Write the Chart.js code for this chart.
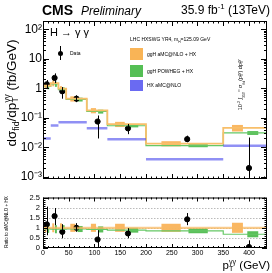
<!DOCTYPE html>
<html><head><meta charset="utf-8">
<script src="https://cdn.jsdelivr.net/npm/chart.js@4/dist/chart.umd.min.js"></script>
<style>
html,body{margin:0;padding:0;background:#fff;}
#wrap{position:relative;width:272px;height:273px;overflow:hidden;font-family:"Liberation Sans",Arial,sans-serif;}
canvas{position:absolute;left:0;}
.t{position:absolute;white-space:nowrap;color:#000;line-height:1;}
.t sup,.t sub{font-size:65%;line-height:0;}
.ss{display:inline-flex;flex-direction:column;vertical-align:middle;font-size:62%;line-height:0.95;}
.sw{position:absolute;}
</style></head><body>
<div id="wrap">
<canvas id="top" width="272" height="190" style="top:0"></canvas>
<canvas id="rat" width="272" height="83" style="top:190px"></canvas>

<div class="t" style="left:42px;top:3px;font-size:14px;font-weight:bold;">CMS</div>
<div class="t" style="left:81px;top:5px;font-size:12px;font-style:italic;">Preliminary</div>
<div class="t" style="right:2px;top:4px;font-size:12px;">35.9 fb<sup>-1</sup> (13TeV)</div>
<div class="t" style="left:50px;top:27px;font-size:11px;">H &rarr; &gamma; &gamma;</div>
<div class="t" style="left:12px;top:93px;font-size:13.5px;transform:translate(-50%,-50%) rotate(-90deg);">d&sigma;<sub>fid</sub>/dp<span class="ss"><span>&gamma;&gamma;</span><span>T</span></span> (fb/GeV)</div>
<div class="t" style="left:7px;top:222px;font-size:4.5px;transform:translate(-50%,-50%) rotate(-90deg);">Ratio to aMC@NLO + HX</div>
<div class="t" style="right:2px;top:259px;font-size:11.5px;">p<span class="ss"><span>&gamma;&gamma;</span><span>T</span></span> (GeV)</div>

<div class="t" style="left:130px;top:37px;font-size:5px;">LHC HXSWG YR4, m<sub>H</sub>=125.09 GeV</div>
<div class="sw" style="left:60px;top:46px;width:1px;height:14px;background:#000;"></div>
<div class="sw" style="left:58px;top:50.5px;width:5px;height:5px;border-radius:50%;background:#000;"></div>
<div class="t" style="left:70px;top:50.5px;font-size:5px;">Data</div>
<div class="sw" style="left:130px;top:48px;width:13px;height:12px;background:#f9b456;"></div>
<div class="t" style="left:147px;top:51.5px;font-size:5px;">ggH aMC@NLO + HX</div>
<div class="sw" style="left:130px;top:65px;width:13px;height:12px;background:#55bf55;"></div>
<div class="t" style="left:147px;top:68.5px;font-size:5px;">ggH POWHEG + HX</div>
<div class="sw" style="left:130px;top:80px;width:13px;height:11px;background:#6a6af2;"></div>
<div class="t" style="left:147px;top:83px;font-size:5px;">HX aMC@NLO</div>
<div class="t" style="left:241px;top:85px;font-size:5.5px;transform:translate(-50%,-50%) rotate(-90deg);">10<sup>-2</sup> &int;<sub>350</sub><sup>&infin;</sup> &sigma;<sub>fid</sub>(p<span class="ss"><span>&gamma;&gamma;</span><span>T</span></span>) dp<span class="ss"><span>&gamma;&gamma;</span><span>T</span></span></div>
</div>
<script>
// ---------- data ----------
const binEdges = [0, 15, 30, 45, 85, 125, 200, 350, 435];
const dataX    = [7.5, 22.5, 37.5, 65, 106, 165, 280, 400];
const dataY    = [1.37, 2.25, 0.79, 0.445, 0.075, 0.044, 0.019, 0.002];
const dataLo   = [1.0, 1.5, 0.445, 0.34, 0.02, 0.028, 0.015, 0.0006];
const dataHi   = [1.9, 3.2, 1.1, 0.58, 0.12, 0.062, 0.025, 0.0216];
const amcY     = [1.22, 1.5, 0.97, 0.445, 0.178, 0.061, 0.0135, 0.046];
const powhegY  = [1.16, 1.4, 0.9, 0.42, 0.164, 0.054, 0.0115, 0.031];
const hxY      = [0.02, 0.055, 0.071, 0.071, 0.044, 0.019, 0.004, 0.0113];
const amcErr   = [0.22, 0.22, 0.22, 0.2, 0.2, 0.2, 0.2, 0.25];
const powhegErr= [0.2, 0.2, 0.2, 0.15, 0.15, 0.12, 0.12, 0.15];
const ratioY   = [1.17, 1.58, 0.8, 1.0, 0.42, 0.72, 1.42, 0.05];
const ratioLo  = [0.63, 1.13, 0.48, 0.8, 0.0, 0.48, 1.13, -0.5];
const ratioHi  = [2.05, 1.98, 1.18, 1.23, 0.88, 0.98, 1.73, 0.38];
const amcRatio = [1, 1, 1, 1, 1, 1, 1, 1];
const powhegRatio = [0.95, 0.93, 0.93, 0.94, 0.92, 0.88, 0.85, 0.68];
const xTickVals = [0, 50, 100, 150, 200, 250, 300, 350, 400];
const yTopTicks = [0.001, 0.01, 0.1, 1, 10, 100];
const yTopLabels = ['10\u207B\u00B3', '10\u207B\u00B2', '10\u207B\u00B9', '1', '10', '10\u00B2'];
const yRatTicks = [0, 0.5, 1, 1.5, 2, 2.5];
const yRatLabels = ['0', '0.5', '1', '1.5', '2', '2.5'];

const FONT = '"Liberation Sans", Arial, sans-serif';
const ORANGE_BOX = 'rgba(249,170,70,0.85)';
const GREEN_BOX = 'rgba(60,180,60,0.85)';

function stepData(vals){
  const d = vals.map((v,i)=>({x:binEdges[i], y:v}));
  d.push({x:binEdges[binEdges.length-1], y:vals[vals.length-1]});
  return d;
}
function segData(vals){
  const d = [];
  vals.forEach((v,i)=>{ d.push({x:binEdges[i],y:v}); d.push({x:binEdges[i+1],y:v}); d.push({x:binEdges[i+1],y:null}); });
  return d;
}

function drawBoxes(ctx, x, y, centers, errs, f0, f1, color){
  ctx.fillStyle = color;
  centers.forEach((c,i)=>{
    const w = binEdges[i+1]-binEdges[i];
    const px0 = x.getPixelForValue(binEdges[i]+f0*w), px1 = x.getPixelForValue(binEdges[i]+f1*w);
    const py0 = y.getPixelForValue(c*(1+errs[i])), py1 = y.getPixelForValue(c*(1-errs[i]));
    ctx.fillRect(px0, py0, px1-px0, py1-py0);
  });
}
function drawBoxesLin(ctx, x, y, centers, errs, f0, f1, color){
  ctx.fillStyle = color;
  centers.forEach((c,i)=>{
    const w = binEdges[i+1]-binEdges[i];
    const px0 = x.getPixelForValue(binEdges[i]+f0*w), px1 = x.getPixelForValue(binEdges[i]+f1*w);
    const py0 = y.getPixelForValue(c+errs[i]), py1 = y.getPixelForValue(c-errs[i]);
    ctx.fillRect(px0, py0, px1-px0, py1-py0);
  });
}
function drawErr(ctx, x, y, xs, lo, hi){
  ctx.strokeStyle = '#000'; ctx.lineWidth = 1;
  ctx.beginPath();
  xs.forEach((xv,i)=>{
    const px = Math.round(x.getPixelForValue(xv))+0.5;
    ctx.moveTo(px, y.getPixelForValue(hi[i]));
    ctx.lineTo(px, y.getPixelForValue(lo[i]));
  });
  ctx.stroke();
}
function clipArea(ctx,a){ ctx.beginPath(); ctx.rect(a.left,a.top,a.right-a.left,a.bottom-a.top); ctx.clip(); }

function frameTicks(chart, yMaj, yMin, Lx, lx, Ly, ly){
  const {ctx, chartArea:a, scales:{x,y}} = chart;
  ctx.save();
  ctx.strokeStyle = '#000'; ctx.lineWidth = 1;
  ctx.strokeRect(a.left+0.5, a.top+0.5, a.right-a.left-1, a.bottom-a.top-1);
  ctx.beginPath();
  for(let v=0; v<=x.max; v+=10){
    const px = Math.round(x.getPixelForValue(v))+0.5;
    const L = (v%50===0)? Lx : lx;
    ctx.moveTo(px, a.bottom); ctx.lineTo(px, a.bottom-L);
    ctx.moveTo(px, a.top); ctx.lineTo(px, a.top+L);
  }
  yMaj.forEach(v=>{ const py=Math.round(y.getPixelForValue(v))+0.5;
    ctx.moveTo(a.left,py); ctx.lineTo(a.left+Ly,py); ctx.moveTo(a.right,py); ctx.lineTo(a.right-Ly,py); });
  yMin.forEach(v=>{ const py=Math.round(y.getPixelForValue(v))+0.5;
    ctx.moveTo(a.left,py); ctx.lineTo(a.left+ly,py); ctx.moveTo(a.right,py); ctx.lineTo(a.right-ly,py); });
  ctx.stroke();
  ctx.restore();
}

const logMinor = [];
[-4,-3,-2,-1,0,1,2].forEach(e=>{ for(let k=2;k<=9;k++){ const v=k*Math.pow(10,e); if(v>0.00085 && v<190) logMinor.push(v);} });
const ratMinor = [];
for(let i=0;i<=25;i++){ if(i%5!==0) ratMinor.push(i/10); }

const topPlugin = {
  id:'topP',
  beforeDatasetsDraw(chart){
    const {ctx, chartArea:a, scales:{x,y}} = chart;
    ctx.save(); clipArea(ctx,a);
    drawBoxes(ctx,x,y,amcY,amcErr,0.2,0.45,ORANGE_BOX);
    drawBoxes(ctx,x,y,powhegY,powhegErr,0.55,0.8,GREEN_BOX);
    ctx.restore();
  },
  afterDatasetsDraw(chart){
    const {ctx, chartArea:a, scales:{x,y}} = chart;
    ctx.save(); clipArea(ctx,a);
    drawErr(ctx,x,y,dataX,dataLo,dataHi);
    ctx.restore();
  },
  afterDraw(chart){ frameTicks(chart, yTopTicks, logMinor, 5, 2.5, 6, 3); }
};
const ratPlugin = {
  id:'ratP',
  beforeDatasetsDraw(chart){
    const {ctx, chartArea:a, scales:{x,y}} = chart;
    ctx.save(); clipArea(ctx,a);
    ctx.strokeStyle = '#aaa'; ctx.lineWidth = 0.8; ctx.setLineDash([1.5,1.5]);
    ctx.beginPath();
    [0.5,1,1.5,2].forEach(v=>{ const py=Math.round(y.getPixelForValue(v))+0.5; ctx.moveTo(a.left,py); ctx.lineTo(a.right,py); });
    ctx.stroke(); ctx.setLineDash([]);
    drawBoxesLin(ctx,x,y,amcRatio,amcErr,0.2,0.45,ORANGE_BOX);
    drawBoxesLin(ctx,x,y,powhegRatio,powhegErr,0.55,0.8,GREEN_BOX);
    ctx.restore();
  },
  afterDatasetsDraw(chart){
    const {ctx, chartArea:a, scales:{x,y}} = chart;
    ctx.save(); clipArea(ctx,a);
    drawErr(ctx,x,y,dataX,ratioLo,ratioHi);
    ctx.restore();
  },
  afterDraw(chart){ frameTicks(chart, yRatTicks, ratMinor, 4, 2, 5, 2.5); }
};

const common = { responsive:false, animation:false, events:[], plugins:{legend:{display:false}, tooltip:{enabled:false}} };

new Chart(document.getElementById('top'), {
  type:'line',
  data:{datasets:[
    {data:segData(hxY), borderColor:'rgba(85,85,238,0.65)', borderWidth:2.5, pointRadius:0, spanGaps:false, tension:0},
    {data:stepData(amcY), stepped:true, borderColor:'#f8bf6a', borderWidth:1.8, pointRadius:0},
    {data:stepData(powhegY), stepped:true, borderColor:'#66c866', borderWidth:1.2, pointRadius:0},
    {type:'scatter', data:dataX.map((xv,i)=>({x:xv,y:dataY[i]})), pointRadius:2.6, pointBackgroundColor:'#000', pointBorderColor:'#000', showLine:false}
  ]},
  options:Object.assign({}, common, {
    layout:{padding:{top:21,right:2,bottom:11,left:0}},
    scales:{
      x:{type:'linear', min:0, max:435, display:false},
      y:{type:'logarithmic', min:0.00085, max:190,
         afterFit(s){ s.width = 43; },
         afterBuildTicks(s){ s.ticks = yTopTicks.map(v=>({value:v})); },
         ticks:{autoSkip:false, color:'#000', padding:1, font:{family:FONT,size:12},
                callback:(v)=>{ const i=yTopTicks.findIndex(t=>Math.abs(Math.log10(t)-Math.log10(v))<1e-6); return i>=0?yTopLabels[i]:''; }},
         grid:{display:false, drawTicks:false}, border:{display:false}}
    }
  }),
  plugins:[topPlugin]
});

new Chart(document.getElementById('rat'), {
  type:'line',
  data:{datasets:[
    {data:stepData(amcRatio), stepped:true, borderColor:'rgba(248,185,100,0.75)', borderWidth:2.2, pointRadius:0},
    {data:stepData(powhegRatio), stepped:true, borderColor:'#66c866', borderWidth:1.2, pointRadius:0},
    {type:'scatter', data:dataX.map((xv,i)=>({x:xv,y:ratioY[i]})), pointRadius:2.6, pointBackgroundColor:'#000', pointBorderColor:'#000', showLine:false}
  ]},
  options:Object.assign({}, common, {
    layout:{padding:{top:7,right:2,bottom:0,left:0}},
    scales:{
      x:{type:'linear', min:0, max:435,
         afterFit(s){ s.height = 25; },
         afterBuildTicks(s){ s.ticks = xTickVals.map(v=>({value:v})); },
         ticks:{autoSkip:false, maxRotation:0, color:'#000', padding:1, font:{family:FONT,size:7}},
         grid:{display:false, drawTicks:false}, border:{display:false}},
      y:{type:'linear', min:0, max:2.5,
         afterFit(s){ s.width = 43; },
         afterBuildTicks(s){ s.ticks = yRatTicks.map(v=>({value:v})); },
         ticks:{autoSkip:false, color:'#000', padding:3, font:{family:FONT,size:7.5},
                callback:(v)=>{ const i=yRatTicks.findIndex(t=>Math.abs(t-v)<1e-6); return i>=0?yRatLabels[i]:''; }},
         grid:{display:false, drawTicks:false}, border:{display:false}}
    }
  }),
  plugins:[ratPlugin]
});
</script>
</body></html>
